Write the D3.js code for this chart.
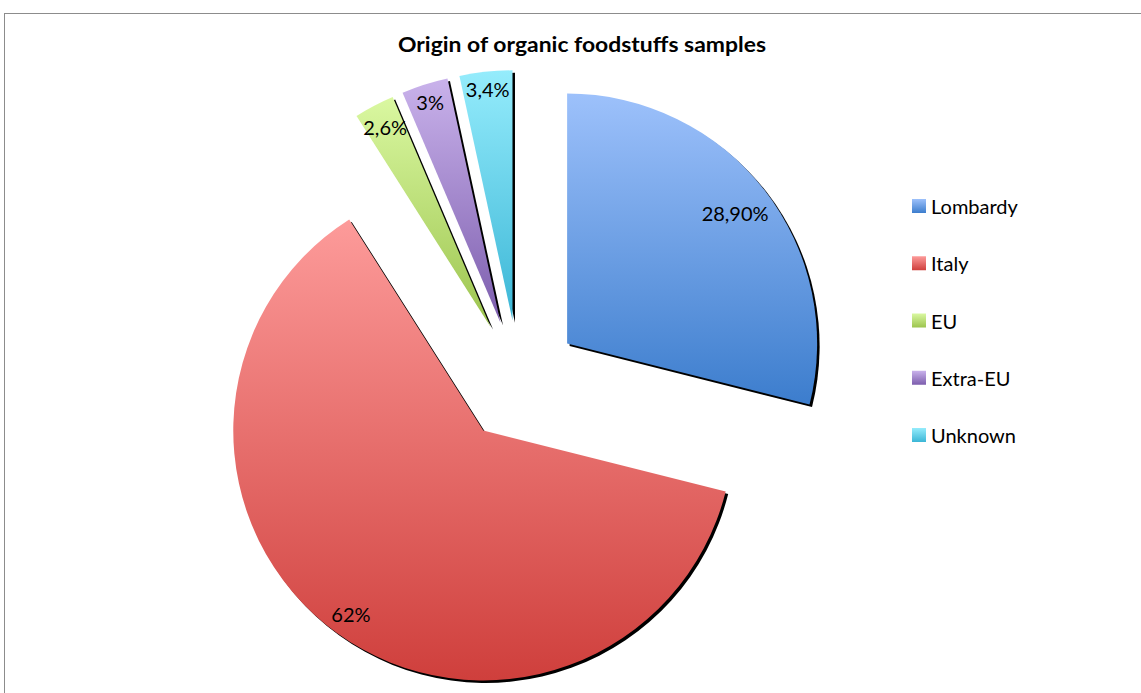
<!DOCTYPE html>
<html>
<head>
<meta charset="utf-8">
<script src="https://cdn.jsdelivr.net/npm/d3@7"></script>
<style>
  html, body { margin: 0; padding: 0; background: #fff; }
  svg { display: block; }
  text { font-family: Lato, "Open Sans", "DejaVu Sans", sans-serif; fill: #000; }
</style>
</head>
<body>
<svg id="chart" width="1141" height="693"></svg>
<script>
// ---- data ----
const categories = ["Lombardy", "Italy", "EU", "Extra-EU", "Unknown"];
const values = [28.9, 62, 2.6, 3, 3.4];
const labels = ["28,90%", "62%", "2,6%", "3%", "3,4%"];
const colorsTop = ["#9dc1fb", "#fd9b9a", "#daf8a1", "#c9b2eb", "#95ecfc"];
const colorsBottom = ["#3c7dcd", "#cf3f3c", "#9cc44e", "#7c5dad", "#3bb6d6"];
const title = "Origin of organic foodstuffs samples";

// ---- layout ----
const W = 1141, H = 693;
const cx = 519, cy = 381, R = 250, explode = 61;

const svg = d3.select("#chart");
const defs = svg.append("defs");

// frame
svg.append("rect")
  .attr("x", 4.5).attr("y", 13.5)
  .attr("width", 1300).attr("height", 900)
  .attr("fill", "none").attr("stroke", "#8c8c8c").attr("stroke-width", 1);

// title
svg.append("text")
  .attr("x", 582).attr("y", 52)
  .attr("text-anchor", "middle")
  .attr("font-size", 20).attr("font-weight", "bold")
  .attr("textLength", 368).attr("lengthAdjust", "spacingAndGlyphs")
  .text(title);

// gradients
categories.forEach((c, i) => {
  const g = defs.append("linearGradient")
    .attr("id", "grad" + i)
    .attr("x1", 0).attr("y1", 0).attr("x2", 0).attr("y2", 1);
  g.append("stop").attr("offset", "0%").attr("stop-color", colorsTop[i]);
  g.append("stop").attr("offset", "100%").attr("stop-color", colorsBottom[i]);
});

const pie = d3.pie().sort(null).value(d => d.value).startAngle(0).endAngle(2 * Math.PI);
const arcs = pie(categories.map((c, i) => ({ name: c, value: values[i], label: labels[i], i })));
const arc = d3.arc().innerRadius(0).outerRadius(R);

const g = svg.append("g").attr("transform", `translate(${cx},${cy})`);

function offset(d) {
  const m = (d.startAngle + d.endAngle) / 2;
  return [explode * Math.sin(m), -explode * Math.cos(m)];
}

const slices = g.selectAll("g.slice").data(arcs).join("g")
  .attr("class", "slice")
  .attr("transform", d => { const [x, y] = offset(d); return `translate(${x},${y})`; });

// shadow
slices.append("path")
  .attr("d", arc)
  .attr("fill", "#000")
  .attr("transform", "translate(2.5,2.5)");

slices.append("path")
  .attr("d", arc)
  .attr("fill", d => `url(#grad${d.data.i})`);

// labels (inside end fit)
const lbl = slices.append("text")
  .attr("font-size", 20)
  .attr("text-anchor", "middle")
  .attr("dominant-baseline", "central")
  .text(d => d.data.label);

lbl.each(function(d) {
  const w = this.getComputedTextLength();
  const hw = w / 2, hh = 10;
  const m = (d.startAngle + d.endAngle) / 2;
  const ux = Math.sin(m), uy = -Math.cos(m);
  const lim = R - 4;
  let best = 0;
  for (let t = 0; t <= R; t += 0.5) {
    const x = ux * t, y = uy * t;
    let ok = true;
    for (const sx of [-1, 1]) for (const sy of [-1, 1]) {
      const px = x + sx * hw, py = y + sy * hh;
      if (px * px + py * py > lim * lim) ok = false;
    }
    if (ok) best = t;
  }
  d3.select(this).attr("x", ux * best).attr("y", uy * best);
});

// legend
const legend = svg.append("g");
const rowY = d3.scalePoint().domain(categories).range([206, 435]);
categories.forEach((c, i) => {
  const y = rowY(c);
  legend.append("rect")
    .attr("x", 912).attr("y", y - 7)
    .attr("width", 14).attr("height", 14)
    .attr("fill", `url(#grad${i})`);
  legend.append("text")
    .attr("x", 931).attr("y", y)
    .attr("dominant-baseline", "central")
    .attr("font-size", 20)
    .text(c);
});
</script>
</body>
</html>
